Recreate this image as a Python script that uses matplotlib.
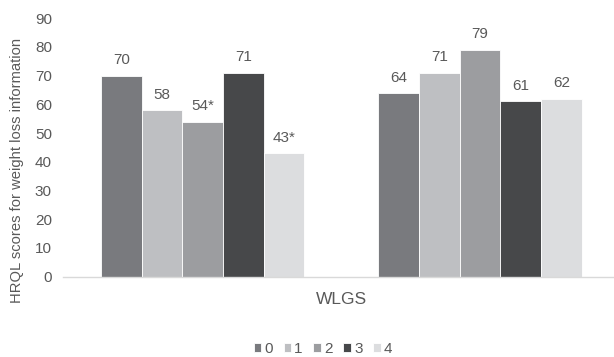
import numpy as np
import matplotlib.pyplot as plt

plt.rcParams['font.family'] = ['Liberation Sans', 'DejaVu Sans']

# --- DATA ---
groups = ["", ""]
series_names = ["0", "1", "2", "3", "4"]
values_g1 = [70, 58, 54, 71, 43]
values_g2 = [64, 71, 79, 61, 62]
labels_g1 = ["70", "58", "54*", "71", "43*"]
labels_g2 = ["64", "71", "79", "61", "62"]
colors = ["#797a7e", "#bebfc2", "#9c9da0", "#47484a", "#dcdddf"]
TEXT = "#595959"
FS = 11

fig = plt.figure(figsize=(6.14, 3.57), dpi=100)
ax = fig.add_axes([63 / 614, 1 - 276.7 / 357, 1 - 63 / 614, (276.7 - 18.2) / 357])

x = np.arange(len(groups))
bw = 0.1465
for i, name in enumerate(series_names):
    vals = [values_g1[i], values_g2[i]]
    labs = [labels_g1[i], labels_g2[i]]
    pos = x + (i - 2) * bw
    ax.bar(pos, vals, width=bw, color=colors[i], edgecolor="white",
           linewidth=0.6, label=name, zorder=2)
    for p, v, t in zip(pos, vals, labs):
        ax.annotate(t, (p, v), xytext=(0, 6), textcoords="offset points",
                    ha="center", va="bottom", fontsize=FS, color=TEXT)

ax.set_xlim(-0.503, 1.483)
ax.set_ylim(0, 90)
ax.set_yticks(range(0, 91, 10))
ax.tick_params(axis="y", length=0, labelsize=FS, labelcolor=TEXT, pad=8)
ax.set_xticks([])
for s in ["top", "right", "left"]:
    ax.spines[s].set_visible(False)
ax.spines["bottom"].set_color("#d9d9d9")
ax.spines["bottom"].set_linewidth(1)

fig.text(341 / 614, 1 - 299 / 357, "WLGS", ha="center", va="center",
         fontsize=12.5, color=TEXT)
fig.text(17 / 614, 1 - 170 / 357, "HRQL scores for weight loss information",
         rotation=90, ha="center", va="center", fontsize=10.6, color=TEXT)

fig.legend(loc="center", bbox_to_anchor=(323 / 614, 1 - 349 / 357), ncol=5,
           frameon=False, fontsize=FS, labelcolor=TEXT, handlelength=0.5,
           handleheight=0.5, handletextpad=0.2, columnspacing=0.7)

fig.savefig("out.png", dpi=100)
